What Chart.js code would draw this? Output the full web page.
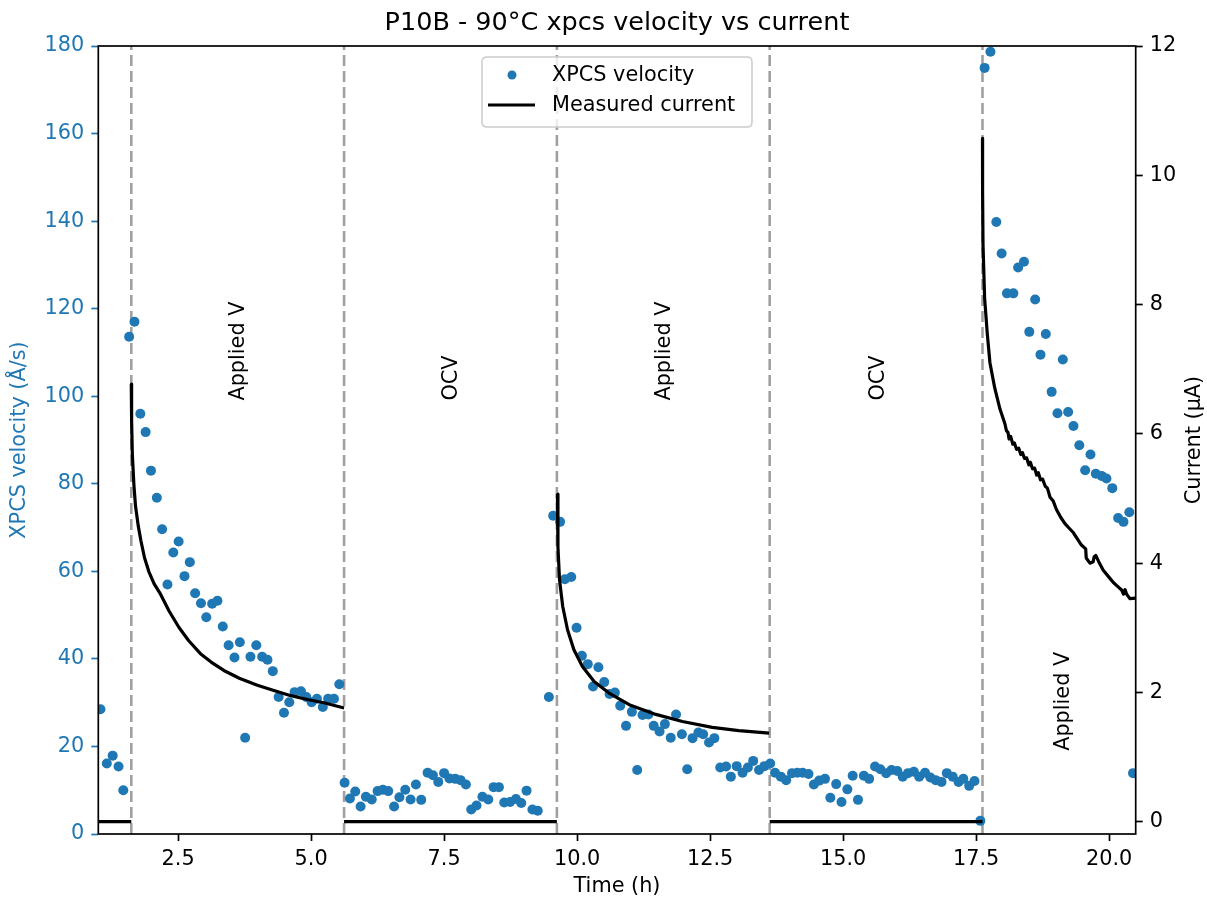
<!DOCTYPE html>
<html><head><meta charset="utf-8">
<script src="https://cdn.jsdelivr.net/npm/chart.js@4.4.1/dist/chart.umd.min.js"></script>
<style>html,body{margin:0;padding:0;background:#fff;}#wrap{width:1207px;height:898px;}</style>
</head><body><div id="wrap"><canvas id="c" width="1207" height="898"></canvas></div>
<script>
// ---------------- data ----------------
const velocityTime = [
 1.04,1.16,1.27,1.38,1.47,1.58,1.68,1.79,1.89,1.99,2.10,2.20,2.30,2.41,2.51,2.62,2.72,2.82,2.93,3.03,
 3.14,3.24,3.34,3.45,3.56,3.66,3.76,3.86,3.97,4.08,4.18,4.28,4.39,4.49,4.59,4.69,4.81,4.91,5.01,5.11,
 5.22,5.32,5.43,5.53,5.63,
 5.73,5.83,5.93,6.03,6.14,6.25,6.35,6.45,6.56,6.66,6.77,6.87,6.97,7.07,7.19,7.29,7.39,7.50,7.60,7.71,
 7.81,7.91,8.01,8.11,8.22,8.33,8.43,8.53,8.63,8.74,8.85,8.95,9.05,9.16,9.26,
 9.47,9.55,9.68,9.77,9.89,9.99,10.09,10.20,10.30,10.40,10.51,10.61,10.71,10.81,10.92,11.03,11.13,11.23,11.34,11.44,
 11.55,11.65,11.76,11.86,11.97,12.07,12.17,12.28,12.37,12.48,12.58,12.69,12.80,12.89,13.00,13.11,13.21,13.31,13.42,13.52,13.63,
 13.72,13.83,13.93,14.04,14.14,14.24,14.35,14.45,14.55,14.66,14.76,14.87,14.97,15.08,15.18,15.28,15.39,15.49,15.60,15.70,
 15.81,15.91,16.02,16.12,16.22,16.33,16.43,16.54,16.64,16.74,16.85,16.95,17.06,17.17,17.26,17.37,17.47,17.58,
 17.66,17.77,17.88,17.98,18.08,18.20,18.29,18.40,18.50,18.61,18.71,18.81,18.92,19.03,19.13,19.23,19.33,19.44,19.55,19.65,
 19.75,19.86,19.95,20.06,20.17,20.27,20.38,20.45
];
const velocityValue = [
 28.5,16.1,17.9,15.4,10.0,113.6,117.0,96.0,91.8,83.0,76.8,69.6,57.0,64.3,66.8,58.9,62.1,55.0,52.7,49.5,
 52.6,53.3,47.4,43.1,40.3,43.8,22.0,40.5,43.1,40.5,39.8,37.2,31.3,27.7,30.1,32.4,32.6,31.3,30.1,30.9,
 29.0,30.9,30.9,34.2,11.7,
 8.1,9.7,6.3,8.5,7.9,9.8,10.1,9.8,6.3,8.4,10.1,7.9,11.3,7.8,14.0,13.4,11.9,13.9,12.7,12.6,
 12.3,11.3,5.6,6.5,8.5,7.9,10.7,10.7,7.2,7.3,8.0,7.1,9.9,5.6,5.3,
 31.3,72.7,71.3,58.2,58.7,47.1,40.7,38.8,33.7,38.1,34.7,32.0,32.3,29.3,24.7,27.9,14.6,27.2,27.3,24.7,
 23.4,25.1,22.0,27.3,22.8,14.8,21.9,23.2,22.8,20.9,21.9,15.2,15.4,13.1,15.5,14.0,15.2,16.7,14.6,15.5,16.1,
 14.0,13.1,12.3,13.9,14.0,14.0,13.7,11.3,12.2,12.6,8.3,11.4,7.3,10.2,13.3,7.8,13.3,12.6,15.4,14.8,
 13.9,14.6,14.4,13.1,13.9,14.2,13.1,14.0,12.9,12.3,11.9,13.9,13.1,11.9,12.6,11.0,12.1,3.0,
 175.0,178.7,139.8,132.6,123.5,123.5,129.4,130.7,114.7,122.1,109.5,114.2,101.0,96.1,108.4,96.4,93.2,88.8,83.1,86.7,
 82.3,81.8,81.2,79.0,72.2,71.3,73.5,13.9
];
// measured current, null separates the recorded segments
const currentTime = [
 1.00,1.62,null,
 1.62,1.626,1.64,1.67,1.70,1.75,1.80,1.87,1.95,2.05,2.17,2.33,2.52,2.70,2.92,3.12,3.36,3.65,3.99,4.30,4.62,4.93,5.24,5.62,null,
 5.62,9.62,null,
 9.63,9.64,9.67,9.73,9.82,9.94,10.10,10.32,10.60,10.98,11.48,11.98,12.54,13.04,13.61,null,
 13.62,17.62,null,
 17.62,17.622,17.63,17.66,17.71,17.76,17.85,17.95,18.04,18.07,18.10,18.12,18.15,18.19,18.22,18.26,18.30,18.34,
 18.37,18.41,18.45,18.49,18.52,18.56,18.60,18.64,18.67,18.71,18.75,18.80,18.84,18.89,18.95,19.01,19.09,19.17,
 19.25,19.33,19.40,19.48,19.56,19.57,19.64,19.70,19.72,19.75,19.80,19.89,20.00,20.08,20.16,20.24,20.27,20.30,
 20.33,20.39,20.50
];
const currentValue = [
 0,0,null,
 6.77,6.21,5.68,5.20,4.88,4.58,4.35,4.08,3.87,3.68,3.52,3.26,3.00,2.80,2.60,2.47,2.34,2.22,2.11,2.03,1.95,1.89,1.84,1.76,null,
 0,0,null,
 5.07,4.25,3.74,3.33,2.97,2.66,2.40,2.17,1.99,1.81,1.66,1.55,1.46,1.41,1.37,null,
 0,0,null,
 10.57,9.76,8.93,8.10,7.55,7.10,6.71,6.38,6.16,6.05,6.02,5.92,5.96,5.84,5.86,5.76,5.78,5.68,
 5.71,5.62,5.63,5.52,5.56,5.46,5.47,5.36,5.40,5.29,5.30,5.19,5.16,5.02,4.96,4.83,4.71,4.61,
 4.54,4.47,4.38,4.28,4.22,4.08,4.00,4.02,4.10,4.12,4.03,3.89,3.78,3.70,3.64,3.58,3.52,3.59,
 3.52,3.45,3.46
];
const phaseBoundaries = [1.62, 5.62, 9.62, 13.62, 17.62];
const phaseLabels = ['Applied V', 'OCV', 'Applied V', 'OCV', 'Applied V'];
const phaseLabelTime = [3.64, 7.65, 11.65, 15.66, 19.15];
const phaseLabelVelocity = [99, 99, 99, 99, 19];
const timeTicks = [2.5, 5, 7.5, 10, 12.5, 15, 17.5, 20];
const velocityTicks = [0, 20, 40, 60, 80, 100, 120, 140, 160, 180];
const currentTicks = [0, 2, 4, 6, 8, 10, 12];
const seriesNames = ['XPCS velocity', 'Measured current'];
const chartTitle = 'P10B - 90°C xpcs velocity vs current';
const xTitle = 'Time (h)';
const yTitle = 'XPCS velocity (Å/s)';
const y2Title = 'Current (µA)';

// ---------------- chart ----------------
const BLUE = '#1f77b4';
const FONT = 'DejaVu Sans';
const FS = 20.8;

const velocityPoints = velocityTime.map((t, i) => ({x: t, y: velocityValue[i]}));
let lastT = 0;
const currentPoints = currentTime.map((t, i) => {
  if (t === null || currentValue[i] === null) return {x: lastT, y: null};
  lastT = t; return {x: t, y: currentValue[i]};
});

const datasets = [
  {label: seriesNames[1], data: currentPoints, yAxisID: 'y2', showLine: true, borderColor: '#000',
   borderWidth: 3.2, pointRadius: 0, tension: 0, spanGaps: false, order: 1, borderJoinStyle: 'round'},
  {label: seriesNames[0], data: velocityPoints, yAxisID: 'y', showLine: false, backgroundColor: BLUE,
   borderWidth: 0, pointRadius: 5, pointHoverRadius: 5, order: 2}
];
phaseBoundaries.forEach(b => datasets.push({
  label: '_boundary', data: [{x: b, y: 0}, {x: b, y: 180}], yAxisID: 'y', showLine: true,
  borderColor: 'rgba(128,128,128,0.75)', borderWidth: 2.6, borderDash: [11, 5], pointRadius: 0, order: 3
}));

function rrect(ctx, x, y, w, h, r) {
  ctx.beginPath();
  ctx.moveTo(x + r, y); ctx.lineTo(x + w - r, y); ctx.quadraticCurveTo(x + w, y, x + w, y + r);
  ctx.lineTo(x + w, y + h - r); ctx.quadraticCurveTo(x + w, y + h, x + w - r, y + h);
  ctx.lineTo(x + r, y + h); ctx.quadraticCurveTo(x, y + h, x, y + h - r);
  ctx.lineTo(x, y + r); ctx.quadraticCurveTo(x, y, x + r, y); ctx.closePath();
}

const decor = {
  id: 'decor',
  afterDatasetsDraw(chart) {
    const ctx = chart.ctx, a = chart.chartArea;
    const xs = chart.scales.x, ys = chart.scales.y;
    ctx.save();
    ctx.fillStyle = '#000'; ctx.font = FS + 'px "' + FONT + '"';
    ctx.textAlign = 'left'; ctx.textBaseline = 'middle';
    phaseLabels.forEach((lab, i) => {
      ctx.save();
      ctx.translate(xs.getPixelForValue(phaseLabelTime[i]), ys.getPixelForValue(phaseLabelVelocity[i]));
      ctx.rotate(-Math.PI / 2);
      ctx.fillText(lab, 0, 0);
      ctx.restore();
    });
    ctx.strokeStyle = '#000'; ctx.lineWidth = 1.7;
    ctx.strokeRect(a.left, a.top, a.right - a.left, a.bottom - a.top);
    ctx.restore();
  },
  afterDraw(chart) {
    const ctx = chart.ctx, a = chart.chartArea;
    const cx = (a.left + a.right) / 2, cy = (a.top + a.bottom) / 2;
    ctx.save();
    ctx.textAlign = 'center'; ctx.textBaseline = 'middle';
    ctx.fillStyle = '#000';
    ctx.font = '25.5px "' + FONT + '"';
    ctx.fillText(chartTitle, cx, 23);
    ctx.font = FS + 'px "' + FONT + '"';
    ctx.fillText(xTitle, cx, 887);
    ctx.save(); ctx.translate(20, cy); ctx.rotate(-Math.PI / 2);
    ctx.fillStyle = BLUE; ctx.fillText(yTitle, 0, 0); ctx.restore();
    ctx.save(); ctx.translate(1195, cy); ctx.rotate(-Math.PI / 2);
    ctx.fillText(y2Title, 0, 0); ctx.restore();
    // legend
    const lx = 482, ly = 57, lw = 270, lh = 70;
    rrect(ctx, lx, ly, lw, lh, 5);
    ctx.fillStyle = 'rgba(255,255,255,0.8)'; ctx.fill();
    ctx.strokeStyle = '#cccccc'; ctx.lineWidth = 1.5; ctx.stroke();
    ctx.fillStyle = BLUE;
    ctx.beginPath(); ctx.arc(512, 75, 4.5, 0, Math.PI * 2); ctx.fill();
    ctx.strokeStyle = '#000'; ctx.lineWidth = 3.2;
    ctx.beginPath(); ctx.moveTo(488, 105); ctx.lineTo(535, 105); ctx.stroke();
    ctx.fillStyle = '#000'; ctx.textAlign = 'left';
    ctx.fillText(seriesNames[0], 552, 76);
    ctx.fillText(seriesNames[1], 552, 106);
    ctx.restore();
  }
};

function fixedTicks(arr) { return s => { s.ticks = arr.map(v => ({value: v})); }; }

new Chart(document.getElementById('c'), {
  type: 'scatter',
  data: {datasets},
  options: {
    responsive: false, animation: false, devicePixelRatio: 1,
    layout: {padding: {top: 46, left: 0, right: 0, bottom: 0}, autoPadding: false},
    plugins: {legend: {display: false}, tooltip: {enabled: false}, title: {display: false}},
    scales: {
      x: {type: 'linear', position: 'bottom', min: 1.0, max: 20.5,
          afterBuildTicks: fixedTicks(timeTicks), afterFit: s => { s.height = 64; },
          ticks: {callback: v => v.toFixed(1), color: '#000', font: {family: FONT, size: FS}, padding: 6, maxRotation: 0, autoSkip: false},
          grid: {drawOnChartArea: false, drawTicks: true, tickLength: 7, tickColor: '#000', tickWidth: 1.7},
          border: {display: false}},
      y: {type: 'linear', position: 'left', min: 0, max: 180,
          afterBuildTicks: fixedTicks(velocityTicks), afterFit: s => { s.width = 98.3; },
          ticks: {callback: v => String(v), color: BLUE, font: {family: FONT, size: FS}, padding: 7, autoSkip: false},
          grid: {drawOnChartArea: false, drawTicks: true, tickLength: 7, tickColor: BLUE, tickWidth: 1.7},
          border: {display: false}},
      y2: {type: 'linear', position: 'right', min: -0.19, max: 12,
          afterBuildTicks: fixedTicks(currentTicks), afterFit: s => { s.width = 71.3; },
          ticks: {callback: v => String(v), color: '#000', font: {family: FONT, size: FS}, padding: 7, autoSkip: false},
          grid: {drawOnChartArea: false, drawTicks: true, tickLength: 7, tickColor: '#000', tickWidth: 1.7},
          border: {display: false}}
    }
  },
  plugins: [decor]
});
</script></body></html>
